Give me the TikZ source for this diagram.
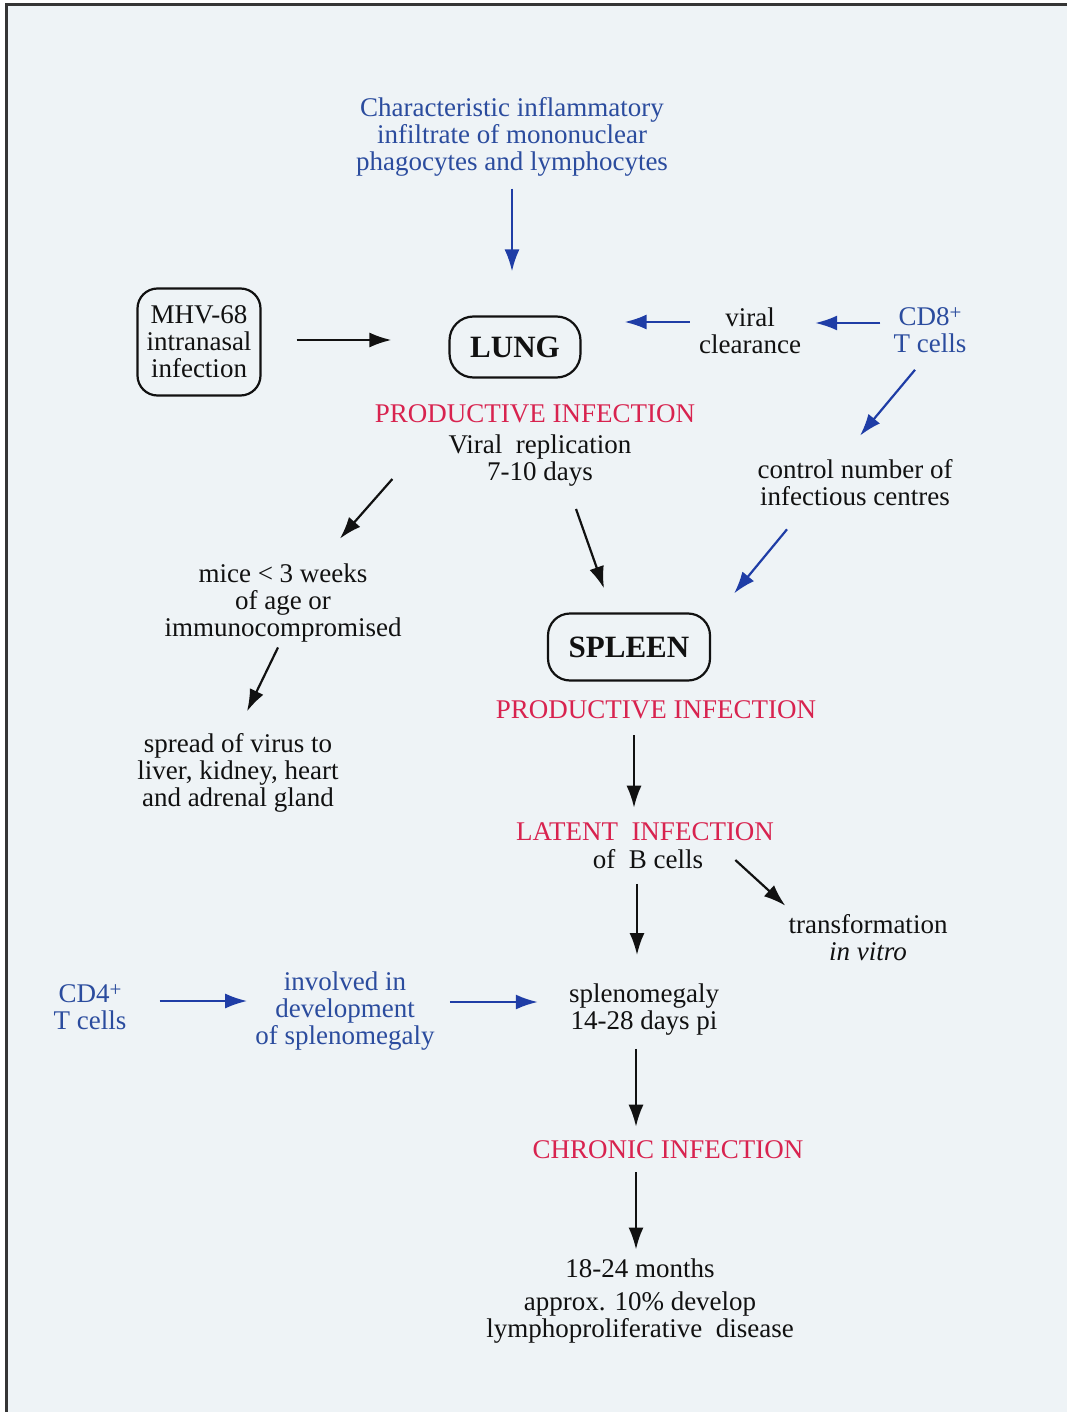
\documentclass[tikz,border=0pt]{standalone}
\usepackage{fontspec}
\setmainfont{Liberation Serif}
\usetikzlibrary{arrows.meta}
\definecolor{vr}{HTML}{D8234F}
\definecolor{vb}{HTML}{2B4C9E}
\definecolor{vab}{HTML}{1F3DA6}
\definecolor{vi}{HTML}{111111}
\definecolor{vbg}{HTML}{EEF3F6}

\newcommand{\plussup}{\raisebox{6pt}{\fontsize{21}{21}\selectfont +}}

\tikzset{
  txt/.style={inner sep=0pt,align=center,font=\fontsize{27}{27}\selectfont,text=vi},
  btxt/.style={txt,text=vb},
  rtxt/.style={txt,text=vr},
  roundbox/.style={draw=vi,line width=2.2pt,inner sep=0pt,align=center,text=vi},
  organ/.style={roundbox,rounded corners=24pt,font=\fontsize{31}{31}\selectfont\bfseries},
  karrow/.style={draw=vi,line width=2.2pt,-{Latex[length=22pt,width=15pt]}},
  barrow/.style={draw=vab,line width=2.2pt,-{Latex[length=22pt,width=15pt]}},
}

\begin{document}
\begin{tikzpicture}[x=1pt,y=-1pt]
  \useasboundingbox (0,0) rectangle (1067,1412);
  % Page (scanned sheet)
  \fill[white] (0,0) rectangle (1067,1412);
  \fill[vbg] (6,5) rectangle (1067,1412);
  \draw[vi!85,line width=3pt] (6,1412) -- (6,5) -- (1067,5);

  % Lung stage
  \node[btxt] (infil) at (512,137) {Characteristic inflammatory\\infiltrate of mononuclear\\phagocytes and lymphocytes};
  \node[roundbox,rounded corners=20pt,font=\fontsize{27}{27}\selectfont,minimum width=123pt,minimum height=107pt] (mhv) at (199,342) {MHV-68\\intranasal\\infection};
  \node[organ,minimum width=131pt,minimum height=61pt] (lung) at (515,347) {LUNG};
  \node[txt] (clear) at (750,331) {viral\\clearance};
  \node[btxt] (cd8) at (930,330) {CD8\plussup\\T cells};
  \node[rtxt] (prod1) at (535,414) {PRODUCTIVE INFECTION};
  \node[txt] (rep) at (540,461) {Viral\ \ replication\\7-10 days};
  \node[txt] (ctrl) at (855,483) {control number of\\infectious centres};

  % Spread in young or immunocompromised mice
  \node[txt] (mice) at (283,603) {mice < 3 weeks\\of age or\\immunocompromised};
  \node[txt] (spread) at (238,773) {spread of virus to\\liver, kidney, heart\\and adrenal gland};

  % Spleen stage
  \node[organ,rounded corners=22pt,minimum width=162pt,minimum height=67pt] (spleen) at (629,647) {SPLEEN};
  \node[rtxt] (prod2) at (656,710) {PRODUCTIVE INFECTION};
  \node[rtxt] (latent) at (645,832) {LATENT\ \ INFECTION};
  \node[txt] (bcells) at (648,859) {of\ \ B cells};
  \node[txt] (transf) at (868,938) {transformation\\\textit{in vitro}};
  \node[txt] (splen) at (644,1010) {splenomegaly\\14-28 days pi};
  \node[btxt] (cd4) at (90,1007) {CD4\plussup\\T cells};
  \node[btxt] (invol) at (345,1011) {involved in\\development\\of splenomegaly};
  \node[rtxt] (chron) at (668,1150) {CHRONIC INFECTION};
  \node[txt] (final) at (640,1301) {18-24 months\\[6pt]approx. 10\% develop\\lymphoproliferative\ \ disease};

  % Connectors
  \draw[barrow,shorten <=12pt,shorten >=44pt] (infil.south) -- (infil.south |- lung.north);
  \draw[karrow,shorten <=35pt,shorten >=57pt] ([yshift=2pt]mhv.east) -- ([yshift=2pt]mhv.east -| lung.west);
  \draw[barrow,shorten <=9pt,shorten >=43pt] ([yshift=9pt]clear.west) -- ([yshift=9pt]clear.west -| lung.east);
  \draw[barrow,shorten <=13pt,shorten >=14pt] ([yshift=7pt]cd8.west) -- ([yshift=7pt]cd8.west -| clear.east);
  \draw[barrow] ([xshift=-15pt,yshift=-17pt]cd8.south) -- ([xshift=5pt,yshift=24pt]ctrl.north);
  \draw[barrow] ([xshift=-68pt,yshift=-23pt]ctrl.south) -- ([xshift=23pt,yshift=19pt]spleen.north east);
  \draw[karrow] ([xshift=-56pt,yshift=8pt]rep.south west) -- ([xshift=57pt,yshift=25pt]mice.north);
  \draw[karrow] ([xshift=36pt,yshift=-22pt]rep.south) -- ([xshift=-25pt,yshift=24pt]spleen.north);
  \draw[karrow] ([xshift=-5pt,yshift=-5pt]mice.south) -- ([xshift=9pt,yshift=22pt]spread.north);
  \draw[karrow,shorten <=16pt,shorten >=15pt] ([xshift=-22pt]prod2.south) -- ([xshift=-22pt]prod2.south |- latent.north);
  \draw[karrow] ([xshift=32pt,yshift=-1pt]bcells.east) -- ([xshift=-3pt,yshift=9pt]transf.north west);
  \draw[karrow,shorten <=15pt,shorten >=29pt] ([xshift=-11pt]bcells.south) -- ([xshift=-11pt]bcells.south |- splen.north);
  \draw[barrow,shorten <=33pt,shorten >=8pt] ([yshift=6pt]cd4.east) -- ([yshift=6pt]cd4.east -| invol.west);
  \draw[barrow,shorten <=15pt,shorten >=31pt] ([yshift=9pt]invol.east) -- ([yshift=9pt]invol.east -| splen.west);
  \draw[karrow,shorten <=13pt,shorten >=14pt] ([xshift=-8pt]splen.south) -- ([xshift=-8pt]splen.south |- chron.north);
  \draw[karrow,shorten <=13pt,shorten >=9pt] ([xshift=-32pt]chron.south) -- ([xshift=-32pt]chron.south |- final.north);
\end{tikzpicture}
\end{document}
